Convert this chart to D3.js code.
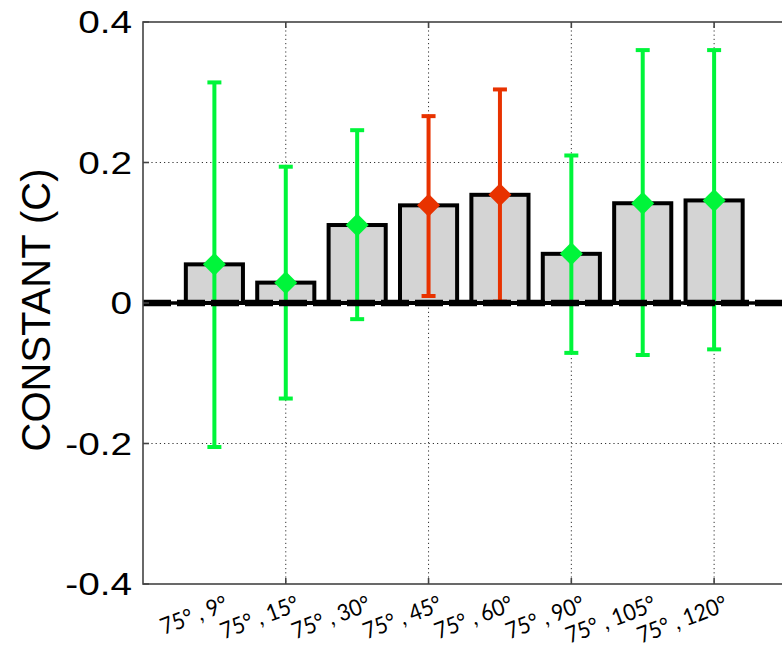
<!DOCTYPE html>
<html>
<head>
<meta charset="utf-8">
<script src="https://cdn.jsdelivr.net/npm/d3@7"></script>
<style>
  html, body { margin: 0; padding: 0; background: #fff; }
  svg { display: block; }
</style>
</head>
<body>
<svg id="chart" width="782" height="647"></svg>
<script>
// ---- data ----
const categories = ["75° , 9°", "75° , 15°", "75° , 30°", "75° , 45°", "75° , 60°", "75° , 90°", "75° , 105°", "75° , 120°"];
const values     = [0.055, 0.029, 0.111, 0.139, 0.154, 0.070, 0.142, 0.146];
const errUpper   = [0.314, 0.194, 0.246, 0.266, 0.304, 0.210, 0.360, 0.360];
const errLower   = [-0.205, -0.136, -0.023, 0.010, 0.002, -0.071, -0.074, -0.066];
const significant = [false, false, false, true, true, false, false, false];
const yTicks     = [-0.4, -0.2, 0, 0.2, 0.4];
const yTickLabels = ["-0.4", "-0.2", "0", "0.2", "0.4"];
const xGridPositions = [2, 4, 6, 8];
const yLabel = "CONSTANT (C)";

const GREEN = "#00f53a", RED = "#e83200";

const svg = d3.select("#chart");
const x = d3.scaleLinear().domain([0, 9]).range([143, 785.5]);
const y = d3.scaleLinear().domain([-0.4, 0.4]).range([584, 22]);
const step = x(1) - x(0);
const barW = step * 0.8;

// grid
const grid = svg.append("g");
grid.selectAll(".gy").data(yTicks.filter(d => d !== 0 && Math.abs(d) < 0.4)).join("line")
  .attr("x1", x(0)).attr("x2", x(9)).attr("y1", d => y(d)).attr("y2", d => y(d))
  .attr("stroke", "#333").attr("stroke-width", 1).attr("stroke-dasharray", "1.2,3");
grid.selectAll(".gx").data(xGridPositions).join("line")
  .attr("x1", d => x(d)).attr("x2", d => x(d)).attr("y1", y(0.4)).attr("y2", y(-0.4))
  .attr("stroke", "#333").attr("stroke-width", 1).attr("stroke-dasharray", "1.2,3");

// bars
svg.append("g").selectAll("rect").data(values).join("rect")
  .attr("x", (d, i) => x(i + 1) - barW / 2)
  .attr("width", barW)
  .attr("y", d => y(Math.max(0, d)))
  .attr("height", d => Math.abs(y(d) - y(0)))
  .attr("fill", "#d4d4d4").attr("stroke", "#000").attr("stroke-width", 4);

// error bars
const eb = svg.append("g");
const capW = 14;
values.forEach((v, i) => {
  const c = significant[i] ? RED : GREEN;
  const cx = x(i + 1);
  eb.append("line").attr("x1", cx).attr("x2", cx).attr("y1", y(errUpper[i])).attr("y2", y(errLower[i]))
    .attr("stroke", c).attr("stroke-width", 4);
  [errUpper[i], errLower[i]].forEach(e => {
    eb.append("line").attr("x1", cx - capW / 2).attr("x2", cx + capW / 2).attr("y1", y(e)).attr("y2", y(e))
      .attr("stroke", c).attr("stroke-width", 4);
  });
});

// zero baseline (thick dashed)
svg.append("line").attr("x1", x(0)).attr("x2", x(9)).attr("y1", y(0)).attr("y2", y(0))
  .attr("stroke", "#000").attr("stroke-width", 3.5);
svg.append("line").attr("x1", x(0)).attr("x2", x(9)).attr("y1", y(0)).attr("y2", y(0))
  .attr("stroke", "#000").attr("stroke-width", 6.5).attr("stroke-dasharray", "28,6");

// diamonds
const dsz = 11.5;
svg.append("g").selectAll("path").data(values).join("path")
  .attr("d", (d, i) => {
    const cx = x(i + 1), cy = y(d);
    return `M${cx},${cy - dsz}L${cx + dsz},${cy}L${cx},${cy + dsz}L${cx - dsz},${cy}Z`;
  })
  .attr("fill", (d, i) => significant[i] ? RED : GREEN);

// frame
const frame = svg.append("g").attr("stroke", "#444").attr("stroke-width", 1.6).attr("fill", "none");
frame.append("rect").attr("x", x(0)).attr("y", y(0.4)).attr("width", x(9) - x(0)).attr("height", y(-0.4) - y(0.4));
// ticks
const tl = 6;
yTicks.forEach(t => {
  frame.append("line").attr("x1", x(0)).attr("x2", x(0) + tl).attr("y1", y(t)).attr("y2", y(t));
});
xGridPositions.forEach(p => {
  frame.append("line").attr("x1", x(p)).attr("x2", x(p)).attr("y1", y(-0.4)).attr("y2", y(-0.4) - tl);
  frame.append("line").attr("x1", x(p)).attr("x2", x(p)).attr("y1", y(0.4)).attr("y2", y(0.4) + tl);
});

// y tick labels
svg.append("g").selectAll("text").data(yTicks).join("text")
  .attr("transform", d => `translate(132,${y(d) + 11}) scale(1.25,1)`)
  .attr("text-anchor", "end")
  .attr("font-family", "'Liberation Sans', Arial, sans-serif")
  .attr("font-size", 31)
  .attr("fill", "#000")
  .text((d, i) => yTickLabels[i]);

// y label
svg.append("text")
  .attr("transform", `translate(50,310) rotate(-90)`)
  .attr("text-anchor", "middle")
  .attr("font-family", "'Liberation Sans', Arial, sans-serif")
  .attr("font-size", 40)
  .attr("fill", "#000")
  .text(yLabel);

// x labels
svg.append("g").selectAll("text").data(categories).join("text")
  .attr("transform", (d, i) => `translate(${x(i + 1) + 15},610) rotate(-21) scale(0.92,1)`)
  .attr("text-anchor", "end")
  .attr("font-family", "Lato, 'Open Sans', sans-serif")
  .attr("font-size", 23)
  .attr("fill", "#000")
  .text(d => d);
</script>
</body>
</html>
